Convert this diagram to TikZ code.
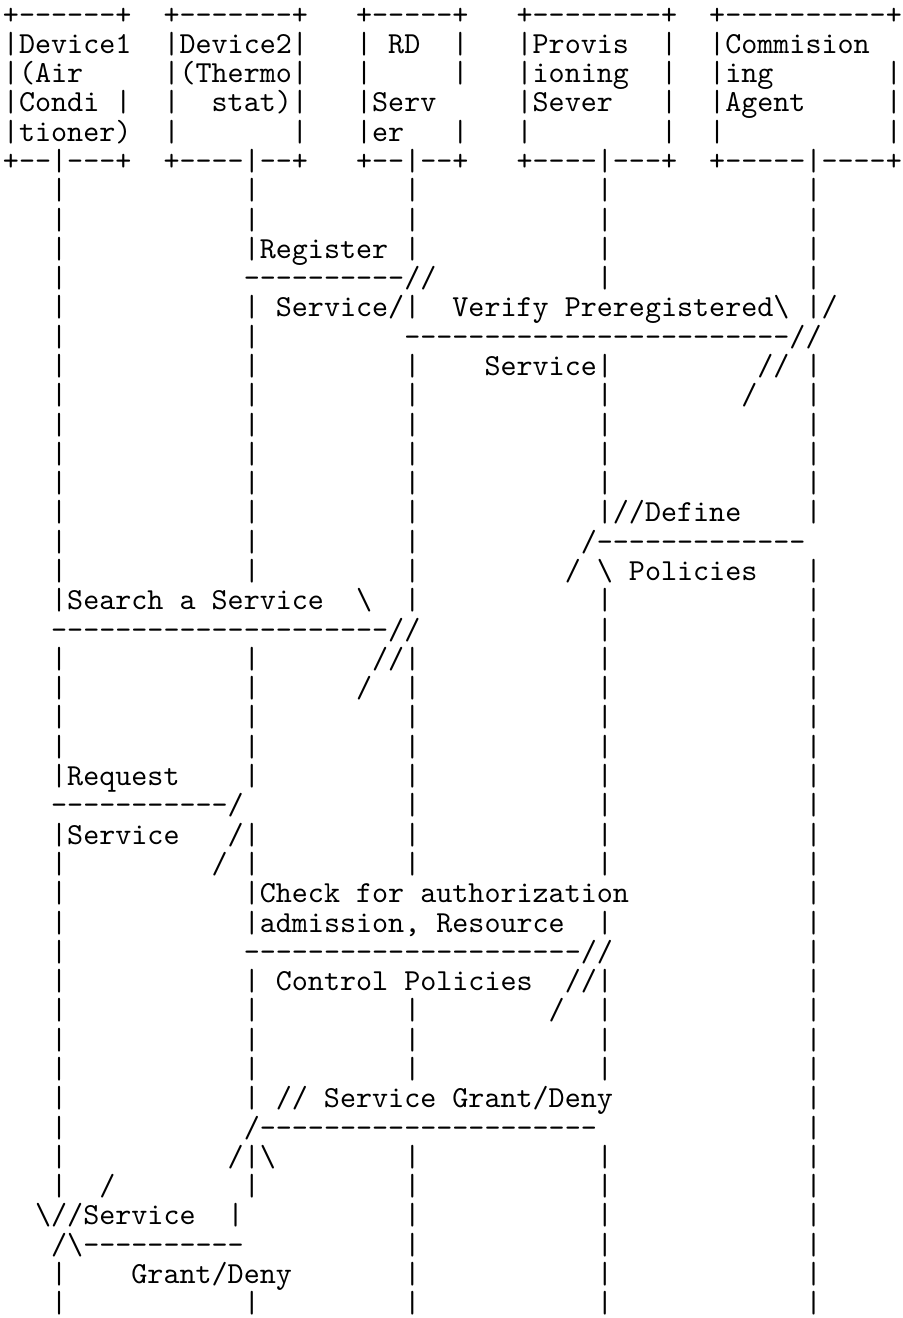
\documentclass[tikz,border=0pt]{standalone}
\usepackage{fontspec}
\newfontfamily\asciimono{lmmono10-regular.otf}
% character grid: 56 columns x 45 rows, 1 unit = 0.5pt
\newcommand\cellw{16.05}
\newcommand\cellh{29.2889}
\newcommand\leftpad{3}
% \asg{row}{column}{text}: a run of characters starting at a grid cell
\newcommand\asg[3]{\node[glyph] (t#1x#2) at ({\leftpad+#2*\cellw},{(#1+0.5)*\cellh+9.4}) {#3};}
% \alife{row}: the five lifelines on a row with no other text
\newcommand\alife[1]{\foreach \c in {3,15,25,37,50}{\asg{#1}{\c}{|}}}
\newcommand\bs{\textbackslash}
\begin{document}
\begin{tikzpicture}[x=0.5pt,y=-0.5pt,
  glyph/.style={anchor=base west,inner sep=0pt,outer sep=0pt,
    font={\asciimono\fontsize{15.286pt}{15.286pt}\selectfont}}]
\fill[white] (0,0) rectangle (902,1318);
\path[use as bounding box] (0,0) rectangle (902,1318);
% header boxes
\asg{0}{0}{+------+}\asg{0}{10}{+-------+}\asg{0}{22}{+-----+}\asg{0}{32}{+--------+}\asg{0}{44}{+----------+}
\asg{1}{0}{|Device1}\asg{1}{10}{|Device2|}\asg{1}{22}{|}\asg{1}{24}{RD}\asg{1}{28}{|}\asg{1}{32}{|Provis}\asg{1}{41}{|}\asg{1}{44}{|Commision}
\asg{2}{0}{|(Air}\asg{2}{10}{|(Thermo|}\asg{2}{22}{|}\asg{2}{28}{|}\asg{2}{32}{|ioning}\asg{2}{41}{|}\asg{2}{44}{|ing}\asg{2}{55}{|}
\asg{3}{0}{|Condi}\asg{3}{7}{|}\asg{3}{10}{|}\asg{3}{13}{stat)|}\asg{3}{22}{|Serv}\asg{3}{32}{|Sever}\asg{3}{41}{|}\asg{3}{44}{|Agent}\asg{3}{55}{|}
\asg{4}{0}{|tioner)}\asg{4}{10}{|}\asg{4}{18}{|}\asg{4}{22}{|er}\asg{4}{28}{|}\asg{4}{32}{|}\asg{4}{41}{|}\asg{4}{44}{|}\asg{4}{55}{|}
\asg{5}{0}{+--|---+}\asg{5}{10}{+----|--+}\asg{5}{22}{+--|--+}\asg{5}{32}{+----|---+}\asg{5}{44}{+-----|----+}
% register service
\alife{6}\alife{7}
\asg{8}{3}{|}\asg{8}{15}{|Register}\asg{8}{25}{|}\asg{8}{37}{|}\asg{8}{50}{|}
\asg{9}{3}{|}\asg{9}{15}{----------//}\asg{9}{37}{|}\asg{9}{50}{|}
\asg{10}{3}{|}\asg{10}{15}{|}\asg{10}{17}{Service/|}\asg{10}{28}{Verify Preregistered\bs}\asg{10}{50}{|/}
\asg{11}{3}{|}\asg{11}{15}{|}\asg{11}{25}{------------------------//}
\asg{12}{3}{|}\asg{12}{15}{|}\asg{12}{25}{|}\asg{12}{30}{Service|}\asg{12}{47}{//}\asg{12}{50}{|}
\asg{13}{3}{|}\asg{13}{15}{|}\asg{13}{25}{|}\asg{13}{37}{|}\asg{13}{46}{/}\asg{13}{50}{|}
\alife{14}\alife{15}\alife{16}
% define policies
\asg{17}{3}{|}\asg{17}{15}{|}\asg{17}{25}{|}\asg{17}{37}{|//Define}\asg{17}{50}{|}
\asg{18}{3}{|}\asg{18}{15}{|}\asg{18}{25}{|}\asg{18}{36}{/-------------}
\asg{19}{3}{|}\asg{19}{15}{|}\asg{19}{25}{|}\asg{19}{35}{/}\asg{19}{37}{\bs{} Policies}\asg{19}{50}{|}
% search a service
\asg{20}{3}{|Search a Service}\asg{20}{22}{\bs}\asg{20}{25}{|}\asg{20}{37}{|}\asg{20}{50}{|}
\asg{21}{3}{---------------------//}\asg{21}{37}{|}\asg{21}{50}{|}
\asg{22}{3}{|}\asg{22}{15}{|}\asg{22}{23}{//|}\asg{22}{37}{|}\asg{22}{50}{|}
\asg{23}{3}{|}\asg{23}{15}{|}\asg{23}{22}{/}\asg{23}{25}{|}\asg{23}{37}{|}\asg{23}{50}{|}
\alife{24}\alife{25}
% request service
\asg{26}{3}{|Request}\asg{26}{15}{|}\asg{26}{25}{|}\asg{26}{37}{|}\asg{26}{50}{|}
\asg{27}{3}{-----------/}\asg{27}{25}{|}\asg{27}{37}{|}\asg{27}{50}{|}
\asg{28}{3}{|Service}\asg{28}{14}{/|}\asg{28}{25}{|}\asg{28}{37}{|}\asg{28}{50}{|}
\asg{29}{3}{|}\asg{29}{13}{/}\asg{29}{15}{|}\asg{29}{25}{|}\asg{29}{37}{|}\asg{29}{50}{|}
% authorization check
\asg{30}{3}{|}\asg{30}{15}{|Check for authorization}\asg{30}{50}{|}
\asg{31}{3}{|}\asg{31}{15}{|admission, Resource}\asg{31}{37}{|}\asg{31}{50}{|}
\asg{32}{3}{|}\asg{32}{15}{---------------------//}\asg{32}{50}{|}
\asg{33}{3}{|}\asg{33}{15}{|}\asg{33}{17}{Control Policies}\asg{33}{35}{//|}\asg{33}{50}{|}
\asg{34}{3}{|}\asg{34}{15}{|}\asg{34}{25}{|}\asg{34}{34}{/}\asg{34}{37}{|}\asg{34}{50}{|}
\alife{35}\alife{36}
% grant or deny
\asg{37}{3}{|}\asg{37}{15}{|}\asg{37}{17}{// Service Grant/Deny}\asg{37}{50}{|}
\asg{38}{3}{|}\asg{38}{15}{/---------------------}\asg{38}{50}{|}
\asg{39}{3}{|}\asg{39}{14}{/|\bs}\asg{39}{25}{|}\asg{39}{37}{|}\asg{39}{50}{|}
\asg{40}{3}{|}\asg{40}{6}{/}\asg{40}{15}{|}\asg{40}{25}{|}\asg{40}{37}{|}\asg{40}{50}{|}
\asg{41}{2}{\bs//Service}\asg{41}{14}{|}\asg{41}{25}{|}\asg{41}{37}{|}\asg{41}{50}{|}
\asg{42}{3}{/\bs----------}\asg{42}{25}{|}\asg{42}{37}{|}\asg{42}{50}{|}
\asg{43}{3}{|}\asg{43}{8}{Grant/Deny}\asg{43}{25}{|}\asg{43}{37}{|}\asg{43}{50}{|}
\alife{44}
\end{tikzpicture}
\end{document}
